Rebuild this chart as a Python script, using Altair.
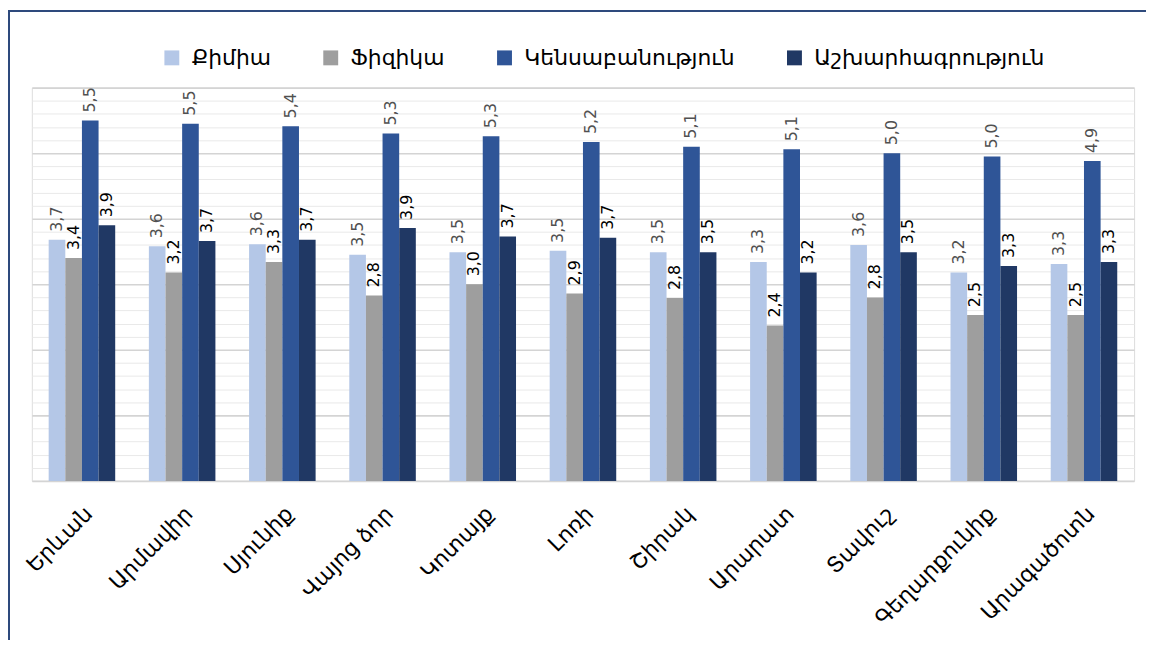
import altair as alt
import pandas as pd

regions = ["Երևան", "Արմավիր", "Սյունիք", "Վայոց ձոր", "Կոտայք", "Լոռի",
           "Շիրակ", "Արարատ", "Տավուշ", "Գեղարքունիք", "Արագածոտն"]
subjects = ["Քիմիա", "Ֆիզիկա", "Կենսաբանություն", "Աշխարհագրություն"]
chemistry = [3.68, 3.58, 3.61, 3.45, 3.49, 3.51, 3.49, 3.34, 3.60, 3.18, 3.31]
physics = [3.40, 3.18, 3.34, 2.83, 3.00, 2.86, 2.79, 2.37, 2.80, 2.53, 2.53]
biology = [5.50, 5.45, 5.41, 5.30, 5.26, 5.17, 5.10, 5.06, 5.00, 4.95, 4.88]
geography = [3.90, 3.66, 3.68, 3.86, 3.73, 3.71, 3.49, 3.18, 3.49, 3.28, 3.34]
colors = ["#B4C7E7", "#9E9E9E", "#2F5597", "#203864"]

series = [chemistry, physics, biology, geography]
rows = []
for s, vals in zip(subjects, series):
    for r, v in zip(regions, vals):
        rows.append({"region": r, "subject": s, "value": v})
df = pd.DataFrame(rows)

minor_values = [round(i * 0.2, 1) for i in range(31) if i % 5 != 0]
major_values = [0, 1, 2, 3, 4, 5, 6]

x_enc = alt.X("region:N", sort=regions,
              scale=alt.Scale(paddingInner=0.336, paddingOuter=0.168),
              axis=alt.Axis(title=None, labelAngle=-45, labelFontSize=22,
                            labelFont="DejaVu Sans", labelColor="#000000",
                            ticks=False, domain=False, labelPadding=22,
                            labelAlign="right", labelBaseline="top", grid=False,
                            labelLimit=400))
xoff = alt.XOffset("subject:N", sort=subjects, scale=alt.Scale(paddingInner=0, paddingOuter=0))
y_minor = alt.Y("value:Q", scale=alt.Scale(domain=[0, 6], nice=False),
                axis=alt.Axis(title=None, labels=False, ticks=False, domain=False,
                              values=minor_values, grid=True,
                              gridColor="#E9E9E9", gridWidth=1))
y_major = alt.Y("value:Q",
                axis=alt.Axis(title=None, labels=False, ticks=False, domain=False,
                              orient="right", values=major_values, grid=True,
                              gridColor="#D4D4D4", gridWidth=1.6))

base = alt.Chart(df)

bars = base.mark_bar().encode(
    x=x_enc, xOffset=xoff, y=y_minor,
    color=alt.Color("subject:N", sort=subjects,
                    scale=alt.Scale(domain=subjects, range=colors),
                    legend=alt.Legend(title=None, orient="none", direction="horizontal",
                                      legendX=130, legendY=-41,
                                      symbolType="square", symbolSize=225,
                                      symbolStrokeWidth=0,
                                      labelFont="DejaVu Sans", labelFontSize=22,
                                      labelColor="#000000", labelLimit=400,
                                      labelOffset=9, columnPadding=49)),
)

labels = base.transform_calculate(
    label="replace(format(datum.value, '.1f'), '.', ',')"
).mark_text(angle=270, align="left", baseline="middle", dx=8, fontSize=16,
            font="DejaVu Sans").encode(
    x=alt.X("region:N", sort=regions), xOffset=alt.XOffset("subject:N", sort=subjects),
    y=y_major,
    text="label:N",
    color=alt.condition("datum.subject == 'Ֆիզիկա' || datum.subject == 'Աշխարհագրություն'",
                        alt.value("#000000"), alt.value("#505050")),
)

frame_top = alt.Chart(df).mark_rule(color="#2E4A7D", strokeWidth=1.5).encode(
    x=alt.value(-24), x2=alt.value(1200), y=alt.value(-77.5))
frame_left = alt.Chart(df).mark_rule(color="#2E4A7D", strokeWidth=1.5).encode(
    x=alt.value(-23.25), y=alt.value(-78), y2=alt.value(700))

chart = alt.layer(bars, labels, frame_top, frame_left).resolve_axis(
    y="independent"
).properties(
    width=1110, height=396,
    autosize=alt.AutoSizeParams(type="none"),
    padding={"left": 24, "top": 78, "right": 12, "bottom": 158},
).configure_view(stroke="transparent", strokeWidth=0).configure(background="#FFFFFF")

chart.save("out.html", embed_options={"renderer": "svg", "actions": False})
